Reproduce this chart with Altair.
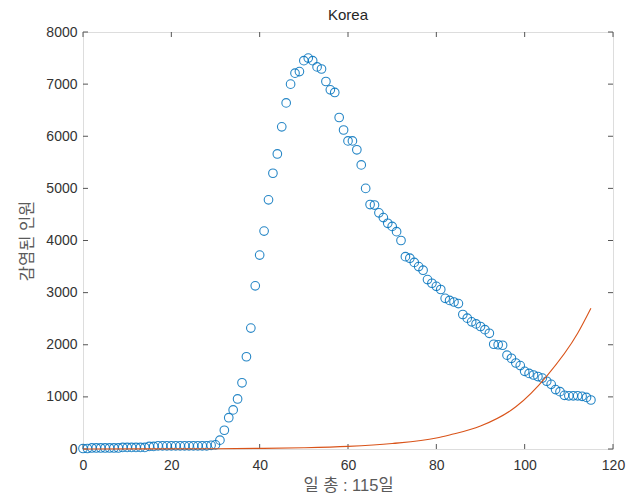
import altair as alt
import pandas as pd

# ---- data ----
days = list(range(0, 116))
infected = [
    10, 10, 20, 20, 20, 20, 20, 20, 20, 30, 30, 30, 30, 30, 30,
    50, 50, 60, 60, 60, 60, 60, 60, 60, 60, 60, 60, 60, 60, 70,
    80, 170, 360, 600, 750, 960, 1270, 1770, 2320, 3130, 3720, 4180, 4780,
    5290, 5660, 6180, 6640, 7000, 7210, 7240, 7450, 7500, 7450, 7330,
    7290, 7050, 6890, 6840, 6360, 6120, 5910, 5910, 5740, 5450,
    5000, 4690, 4680, 4530, 4440, 4330, 4270, 4170, 4000, 3690, 3660,
    3580, 3500, 3430, 3250, 3180, 3120, 3060, 2890, 2850, 2820, 2790,
    2580, 2510, 2440, 2400, 2350, 2290, 2220, 2010, 2000, 1990, 1800,
    1740, 1650, 1600, 1490, 1450, 1420, 1390, 1360, 1300, 1240, 1140,
    1100, 1030, 1020, 1020, 1020, 1010, 990, 940,
]
fit_days = [0, 30, 40, 50, 60, 70, 80, 83, 90, 98, 105, 112, 115]
fit_values = [1, 6, 12, 24, 50, 105, 210, 270, 440, 810, 1400, 2220, 2700]

x_ticks = [0, 20, 40, 60, 80, 100, 120]
y_ticks = [0, 1000, 2000, 3000, 4000, 5000, 6000, 7000, 8000]

title_text = "Korea"
x_title = "일 총 : 115일"
y_title = "감염된 인원"

pts = pd.DataFrame({"day": days, "count": infected})
fit = pd.DataFrame({"day": fit_days, "count": fit_values})
xt = pd.DataFrame({"day": x_ticks})
yt = pd.DataFrame({"count": y_ticks})

FONT = "Liberation Sans, Noto Sans CJK KR, sans-serif"
TICK = "#555555"
LBL = "#333333"
W, H, TL = 530, 417, 5

xscale = alt.Scale(domain=[0, 120], nice=False, zero=False)
yscale = alt.Scale(domain=[0, 8000], nice=False)

common_axis = dict(domain=False, grid=False, ticks=False,
                   labelFont=FONT, labelFontSize=14, labelColor=LBL,
                   titleFont=FONT, titleFontSize=16.5,
                   titleFontWeight="normal", titleColor="#5a5a5a",
                   format="d", labelFlush=False)
xaxis = alt.Axis(values=x_ticks, orient="bottom", labelPadding=9,
                 title=x_title, titlePadding=5, **common_axis)
yaxis = alt.Axis(values=y_ticks, orient="left", labelPadding=6,
                 title=y_title, titlePadding=10, **common_axis)

X = alt.X("day:Q", scale=xscale, axis=xaxis)
Y = alt.Y("count:Q", scale=yscale, axis=yaxis)

# inward tick marks on all four sides of the box (MATLAB style)
tick_bottom = alt.Chart(xt).mark_rule(color=TICK, strokeWidth=1).encode(
    x=X, y=alt.value(H), y2=alt.value(H - TL))
tick_top = alt.Chart(xt).mark_rule(color=TICK, strokeWidth=1).encode(
    x=X, y=alt.value(0), y2=alt.value(TL))
tick_left = alt.Chart(yt).mark_rule(color=TICK, strokeWidth=1).encode(
    y=Y, x=alt.value(0), x2=alt.value(TL))
tick_right = alt.Chart(yt).mark_rule(color=TICK, strokeWidth=1).encode(
    y=Y, x=alt.value(W), x2=alt.value(W - TL))

points = alt.Chart(pts).mark_point(
    shape="circle", filled=False, size=74, strokeWidth=1.1,
    color="#0072BD", opacity=0.85
).encode(x=X, y=Y)

curve = alt.Chart(fit).mark_line(
    color="#D95319", strokeWidth=1.1, interpolate="monotone"
).encode(x=X, y=Y)

chart = alt.layer(
    tick_bottom, tick_top, tick_left, tick_right, points, curve
).properties(
    width=W, height=H,
    title=alt.TitleParams(title_text, font=FONT, fontSize=15,
                          fontWeight="normal", color="#262626", offset=2),
    autosize=alt.AutoSizeParams(type="none"),
    padding={"left": 83, "top": 32, "right": 30, "bottom": 52},
).configure_view(
    stroke="#6e6e6e", strokeWidth=1
).configure(background="white")

chart.save("out.html", embed_options={"renderer": "svg", "actions": False})
